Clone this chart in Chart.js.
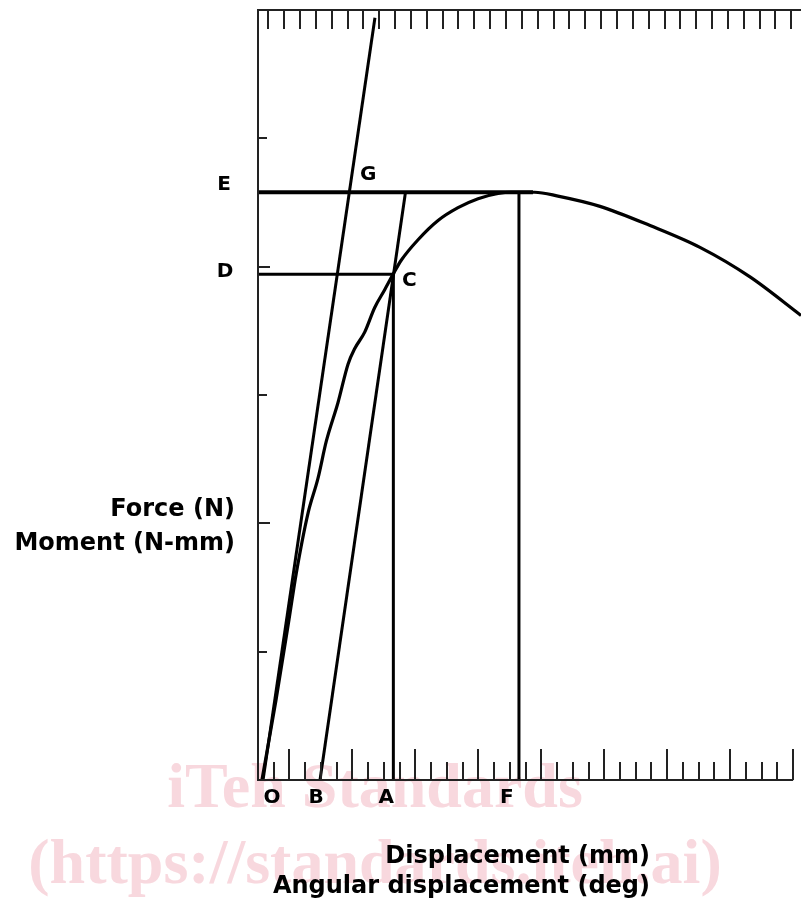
<!DOCTYPE html>
<html>
<head>
<meta charset="utf-8">
<title>Force / displacement</title>
<script src="https://cdn.jsdelivr.net/npm/chart.js@4/dist/chart.umd.min.js"></script>
<style>
    html, body { margin: 0; padding: 0; background: #fff; }
    #canvas { display: block; }
</style>
</head>
<body>
<canvas id="canvas" width="801" height="906"></canvas>
<script>
// x in minor tick units, y in major tick units
var curveX = [0.25, 1.14, 1.97, 2.43, 3.18, 3.81, 4.34, 5.08, 5.72, 6.14, 6.78, 7.41, 8.05, 8.58, 9.10, 10.17, 11.44, 12.71, 13.98, 15.25, 16.09, 16.58, 17.58, 19.06, 21.73, 24.91, 28.08, 31.26, 34.50];
var curveY = [0, 0.62, 1.25, 1.61, 2.08, 2.35, 2.64, 2.94, 3.24, 3.36, 3.49, 3.68, 3.82, 3.94, 4.05, 4.21, 4.36, 4.46, 4.53, 4.57, 4.58, 4.58, 4.58, 4.55, 4.47, 4.32, 4.15, 3.92, 3.62];

var slopeOX = [0.32, 7.43];
var slopeOY = [0, 5.94];
var slopeBX = [3.94, 9.37];
var slopeBY = [0, 4.58];

var pointA = 8.60;   // x of A / C
var pointF = 16.58;  // x of F
var levelD = 3.94;   // y of D / C
var levelE = 4.58;   // y of E
var lineEEnd = 17.47;

var bottomTicks = [0, 1, 2, 3, 4, 5, 6, 7, 8, 9, 10, 11, 12, 13, 14, 15, 16, 17, 18, 19, 20, 21, 22, 23, 24, 25, 26, 27, 28, 29, 30, 31, 32, 33, 34];
var bottomMajor = [2, 6, 10, 14, 18, 22, 26, 30, 34];
var topTicks = [0.65, 1.66, 2.66, 3.67, 4.68, 5.69, 6.69, 7.70, 8.71, 9.71, 10.72, 11.73, 12.73, 13.74, 14.75, 15.76, 16.76, 17.77, 18.78, 19.78, 20.79, 21.80, 22.80, 23.81, 24.82, 25.83, 26.83, 27.84, 28.85, 29.85, 30.86, 31.87, 32.87, 33.88];
var leftTicks = [1, 2, 3, 4, 5];
var leftMajor = [2, 4];

var xLetters = ['O', 'B', 'A', 'F'];
var xLetterAt = [0.25, 3.94, 8.60, 16.58];

function toPoints(xs, ys) {
    var pts = [];
    for (var i = 0; i < xs.length; i++) {
        pts.push({x: xs[i], y: ys[i]});
    }
    return pts;
}

function lineSet(xs, ys, width) {
    return {
        data: toPoints(xs, ys),
        showLine: true,
        borderColor: '#000',
        borderWidth: width,
        pointRadius: 0,
        fill: false
    };
}

var FONT = '"DejaVu Sans", Verdana, sans-serif';

// watermark + white background, behind everything
var backPlugin = {
    id: 'back',
    beforeDraw: function (chart) {
        var ctx = chart.ctx;
        ctx.save();
        ctx.fillStyle = '#fff';
        ctx.fillRect(0, 0, chart.width, chart.height);
        ctx.fillStyle = '#f8d8de';
        ctx.textAlign = 'center';
        ctx.textBaseline = 'middle';
        ctx.font = 'bold 64px "Liberation Serif", serif';
        ctx.fillText('iTeh Standards', 375, 790);
        ctx.fillText('(https://standards.iteh.ai)', 375, 866);
        ctx.restore();
    }
};

// frame, ticks and letters
var axisPlugin = {
    id: 'axes',
    afterDatasetsDraw: function (chart) {
        var ctx = chart.ctx;
        var xs = chart.scales.x;
        var ys = chart.scales.y;
        var area = chart.chartArea;
        var i, px, py;

        ctx.save();
        ctx.strokeStyle = '#222';
        ctx.lineWidth = 2;
        ctx.beginPath();
        ctx.moveTo(area.right, area.top);
        ctx.lineTo(area.left, area.top);
        ctx.lineTo(area.left, area.bottom);
        ctx.lineTo(xs.getPixelForValue(34), area.bottom);
        ctx.stroke();

        ctx.lineWidth = 2;
        ctx.beginPath();
        for (i = 0; i < bottomTicks.length; i++) {
            px = Math.round(xs.getPixelForValue(bottomTicks[i]));
            var len = bottomMajor.indexOf(bottomTicks[i]) >= 0 ? 31 : 18;
            ctx.moveTo(px, area.bottom);
            ctx.lineTo(px, area.bottom - len);
        }
        for (i = 0; i < topTicks.length; i++) {
            px = Math.round(xs.getPixelForValue(topTicks[i]));
            ctx.moveTo(px, area.top);
            ctx.lineTo(px, area.top + 19);
        }
        for (i = 0; i < leftTicks.length; i++) {
            py = Math.round(ys.getPixelForValue(leftTicks[i]));
            var llen = leftMajor.indexOf(leftTicks[i]) >= 0 ? 12 : 9;
            ctx.moveTo(area.left, py);
            ctx.lineTo(area.left + llen, py);
        }
        ctx.stroke();

        ctx.fillStyle = '#000';
        ctx.textAlign = 'center';
        ctx.textBaseline = 'middle';
        ctx.font = 'bold 20px ' + FONT;
        for (i = 0; i < xLetters.length; i++) {
            var shift = [10, -4, -7, -12][i];
            ctx.fillText(xLetters[i], xs.getPixelForValue(xLetterAt[i]) + shift, area.bottom + 18);
        }
        ctx.fillText('E', area.left - 34, ys.getPixelForValue(levelE) - 7);
        ctx.fillText('D', area.left - 33, ys.getPixelForValue(levelD) - 3);
        ctx.fillText('G', xs.getPixelForValue(slopeOX[0] + (slopeOX[1] - slopeOX[0]) * levelE / slopeOY[1]) + 19, ys.getPixelForValue(levelE) - 17);
        ctx.fillText('C', xs.getPixelForValue(pointA) + 16, ys.getPixelForValue(levelD) + 6);

        ctx.font = 'bold 24px ' + FONT;
        ctx.textAlign = 'right';
        ctx.fillText('Force (N)', 235, 510);
        ctx.fillText('Moment (N-mm)', 235, 544);
        ctx.fillText('Displacement (mm)', 650, 857);
        ctx.fillText('Angular displacement (deg)', 650, 887);
        ctx.restore();
    }
};

var curveSet = lineSet(curveX, curveY, 3.2);
curveSet.cubicInterpolationMode = 'monotone';

var CHART = document.getElementById('canvas');
var lineChart = new Chart(CHART, {
    type: 'scatter',
    data: {
        datasets: [
            curveSet,
            lineSet(slopeOX, slopeOY, 3),
            lineSet(slopeBX, slopeBY, 3),
            lineSet([pointA, pointA], [0, levelD], 3),
            lineSet([0, pointA], [levelD, levelD], 3),
            lineSet([0, lineEEnd], [levelE, levelE], 4),
            lineSet([pointF, pointF], [0, levelE], 3)
        ]
    },
    options: {
        responsive: false,
        animation: false,
        layout: {padding: {left: 258, top: 10, right: 0, bottom: 126}},
        plugins: {legend: {display: false}, tooltip: {enabled: false}},
        scales: {
            x: {type: 'linear', min: 0, max: 34.5, display: false},
            y: {type: 'linear', min: 0, max: 6, display: false}
        }
    },
    plugins: [backPlugin, axisPlugin]
});
</script>
</body>
</html>
